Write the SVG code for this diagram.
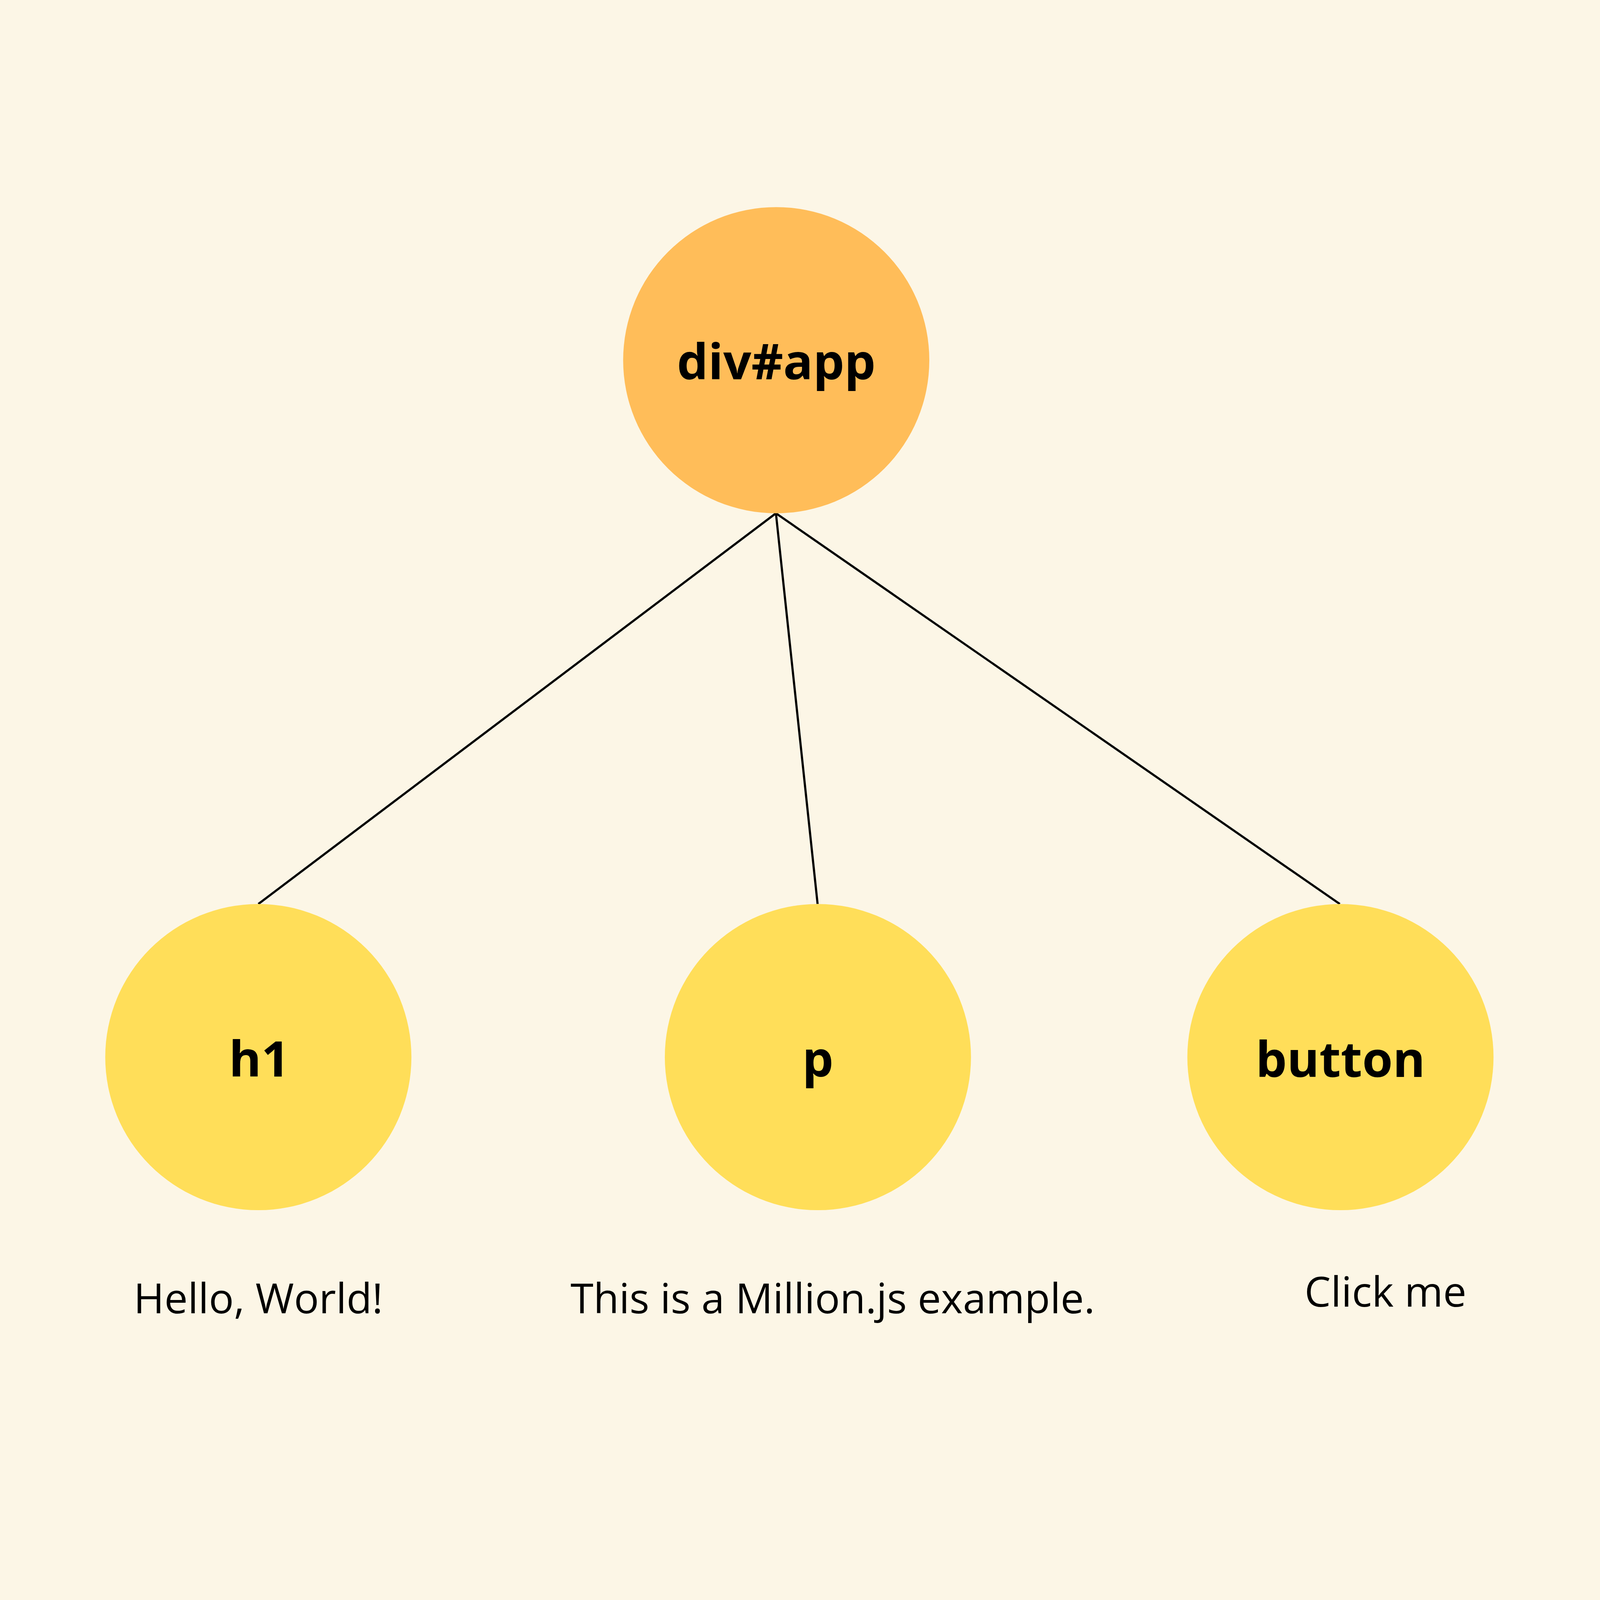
<svg xmlns="http://www.w3.org/2000/svg" width="5184" height="4800" viewBox="0 0 5184 4800" preserveAspectRatio="xMidYMid meet">
<style>
svg:root{width:100vw;height:100vh;background:#FCF6E6}
.bg{fill:#FCF6E6}
.root{fill:#FFBD59}
.child{fill:#FFDE59}
.edge{stroke:#000;stroke-width:7;fill:none;stroke-linecap:butt}
.name{font-family:"Open Sans","Noto Sans",sans-serif;font-weight:700;font-size:160px;fill:#000;text-anchor:middle}
.text{font-family:"Open Sans","Noto Sans",sans-serif;font-weight:400;font-size:135px;fill:#000;text-anchor:middle}
</style>
<rect class="bg" x="0" y="0" width="5184" height="4800"/>
<g id="connectors">
<line class="edge" x1="2514" y1="1471" x2="837" y2="2737"/>
<line class="edge" x1="2514" y1="1471" x2="2649" y2="2737"/>
<line class="edge" x1="2514" y1="1471" x2="4341" y2="2737"/>
</g>
<g id="node-divapp">
<circle class="root" cx="2515" cy="975" r="496"/>
<text class="name" x="2515" y="1037">div#app</text>
</g>
<g id="node-h1">
<circle class="child" cx="837" cy="3233" r="496"/>
<text class="name" x="840" y="3296">h1</text>
</g>
<g id="node-p">
<circle class="child" cx="2650" cy="3233" r="496"/>
<text class="name" x="2650" y="3296">p</text>
</g>
<g id="node-button">
<circle class="child" cx="4343" cy="3233" r="496"/>
<text class="name" x="4343" y="3297">button</text>
</g>
<g id="labels">
<text class="text" x="837" y="4063">Hello, World!</text>
<text class="text" x="2698" y="4063">This is a Million.js example.</text>
<text class="text" x="4489" y="4042">Click me</text>
</g>
</svg>
